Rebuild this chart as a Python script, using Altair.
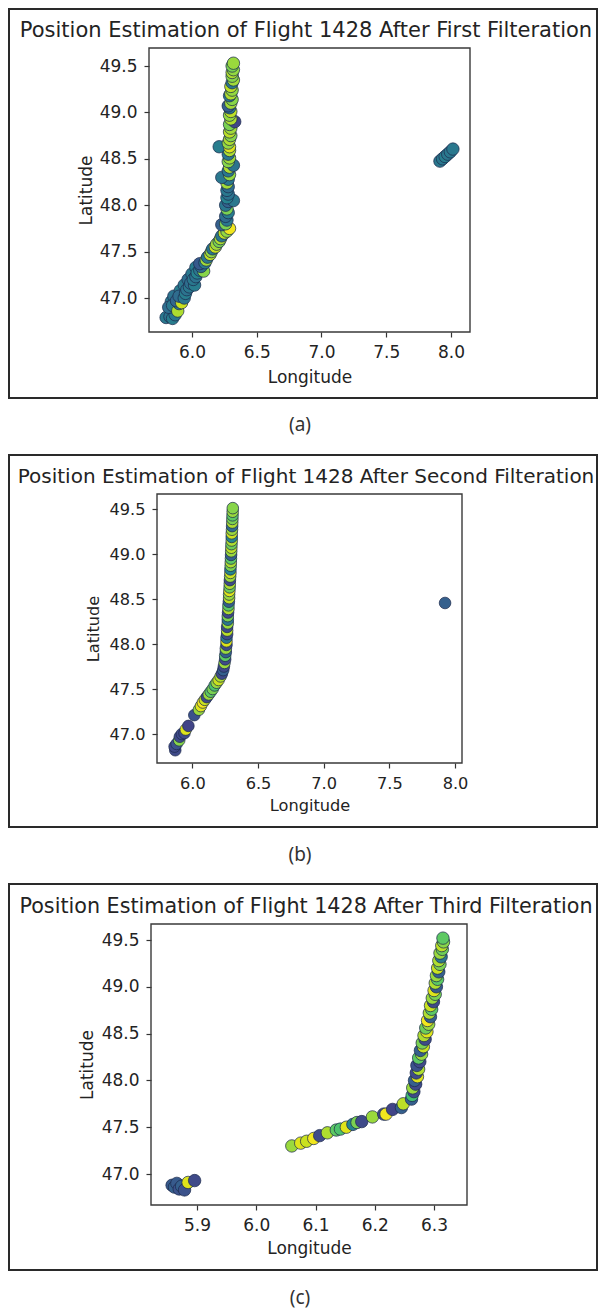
import altair as alt
import pandas as pd

# ---------------- data ----------------
titles = [
    "Position Estimation of Flight 1428 After First Filteration",
    "Position Estimation of Flight 1428 After Second Filteration",
    "Position Estimation of Flight 1428 After Third Filteration",
]
captions = ["(a)", "(b)", "(c)"]

lat_ticks = [47.0, 47.5, 48.0, 48.5, 49.0, 49.5]
ab_lon_ticks = [6.0, 6.5, 7.0, 7.5, 8.0]
c_lon_ticks = [5.9, 6.0, 6.1, 6.2, 6.3]

a_lon_domain = [5.668, 8.147]
a_lat_domain = [46.634, 49.694]
b_lon_domain = [5.731, 8.053]
b_lat_domain = [46.678, 49.667]
c_lon_domain = [5.8224, 6.3556]
c_lat_domain = [46.669, 49.671]

# panel (a): after first filteration
a_lat = [
    46.96, 47.02, 47.08, 47.14, 47.20, 47.26, 47.33,
    46.79, 46.80, 46.78, 46.82, 46.90, 46.92, 46.86, 46.94, 46.97, 46.95,
    47.02, 47.00, 47.05, 47.09, 47.12, 47.16, 47.14, 47.20, 47.23, 47.27,
    47.30, 47.29, 47.34, 47.37, 47.38, 47.41, 47.44, 47.47, 47.50, 47.53,
    47.55, 47.58, 47.61, 47.64, 47.67, 47.70, 47.72, 47.75, 47.79, 47.80,
    47.84, 47.88, 47.92, 47.96, 48.00, 48.04, 48.05, 48.08, 48.12, 48.16,
    48.20, 48.24, 48.28, 48.30, 48.33, 48.37, 48.41, 48.43, 48.47, 48.51,
    48.55, 48.59, 48.63, 48.63, 48.67, 48.71, 48.75, 48.79, 48.83, 48.87,
    48.90, 48.93, 48.97, 49.01, 49.05, 49.07, 49.10, 49.14, 49.18, 49.20,
    49.24, 49.28, 49.32, 49.35, 49.39, 49.43, 49.46, 49.50, 49.53,
    48.475, 48.50, 48.525, 48.55, 48.575, 48.605,
]
a_lon = [
    5.84, 5.86, 5.91, 5.94, 5.97, 6.00, 6.03,
    5.80, 5.83, 5.85, 5.87, 5.82, 5.85, 5.89, 5.90, 5.88, 5.92,
    5.90, 5.94, 5.95, 5.96, 5.98, 5.99, 6.02, 6.01, 6.03, 6.04,
    6.06, 6.09, 6.07, 6.06, 6.10, 6.11, 6.12, 6.14, 6.15, 6.16,
    6.18, 6.19, 6.21, 6.22, 6.23, 6.25, 6.27, 6.29, 6.23, 6.26,
    6.27, 6.26, 6.28, 6.27, 6.26, 6.28, 6.32, 6.27, 6.28, 6.27,
    6.28, 6.27, 6.28, 6.23, 6.29, 6.28, 6.29, 6.32, 6.28, 6.29,
    6.28, 6.29, 6.21, 6.29, 6.28, 6.29, 6.30, 6.29, 6.30, 6.29,
    6.33, 6.30, 6.29, 6.30, 6.29, 6.28, 6.30, 6.31, 6.29, 6.30,
    6.31, 6.30, 6.31, 6.32, 6.31, 6.31, 6.32, 6.31, 6.32,
    7.915, 7.935, 7.955, 7.975, 7.995, 8.015,
]
a_val = [
    0.40, 0.38, 0.42, 0.40, 0.36, 0.40, 0.42,
    0.40, 0.38, 0.42, 0.40, 0.36, 0.40, 0.88, 0.40, 0.33, 0.92,
    0.35, 0.40, 0.42, 0.38, 0.40, 0.36, 0.42, 0.40, 0.38, 0.44,
    0.40, 0.82, 0.36, 0.28, 0.40, 0.86, 0.40, 0.90, 0.84, 0.40,
    0.92, 0.86, 0.80, 0.88, 0.40, 0.90, 0.84, 0.98, 0.30, 0.80,
    0.40, 0.36, 0.42, 0.80, 0.40, 0.32, 0.40, 0.44, 0.38, 0.40,
    0.36, 0.86, 0.40, 0.40, 0.84, 0.40, 0.88, 0.38, 0.82, 0.86,
    0.40, 0.88, 0.42, 0.95, 0.84, 0.88, 0.82, 0.90, 0.86, 0.80,
    0.20, 0.88, 0.84, 0.90, 0.40, 0.30, 0.86, 0.82, 0.40, 0.88,
    0.84, 0.90, 0.40, 0.86, 0.82, 0.88, 0.84, 0.80, 0.85,
    0.40, 0.40, 0.42, 0.40, 0.40, 0.40,
]

# panel (b): after second filteration
b_lat = [
    46.82, 46.86, 46.89, 46.93, 46.97, 47.00, 47.01, 47.05, 47.09, 47.21,
    47.27, 47.31, 47.35, 47.38, 47.41, 47.44, 47.47, 47.50, 47.54, 47.57,
    47.60, 47.64, 47.67, 47.71, 47.75, 47.79, 47.83, 47.87, 47.91, 47.95,
    47.99, 48.03, 48.07, 48.11, 48.15, 48.19, 48.23, 48.27, 48.31, 48.35,
    48.39, 48.43, 48.47, 48.51, 48.55, 48.59, 48.63, 48.67, 48.71, 48.75,
    48.79, 48.83, 48.87, 48.91, 48.95, 48.99, 49.03, 49.07, 49.11, 49.15,
    49.19, 49.23, 49.27, 49.31, 49.35, 49.39, 49.43, 49.47, 49.51,
    48.456,
]
b_lon = [
    5.870, 5.865, 5.880, 5.900, 5.905, 5.920, 5.940, 5.950, 5.970, 6.015,
    6.050, 6.065, 6.080, 6.095, 6.110, 6.125, 6.140, 6.155, 6.170, 6.185,
    6.200, 6.215, 6.225, 6.235, 6.240, 6.245, 6.250, 6.250, 6.255, 6.255,
    6.260, 6.260, 6.260, 6.265, 6.265, 6.265, 6.270, 6.270, 6.270, 6.272,
    6.275, 6.275, 6.278, 6.280, 6.280, 6.282, 6.284, 6.285, 6.286, 6.288,
    6.290, 6.290, 6.292, 6.293, 6.294, 6.295, 6.296, 6.297, 6.298, 6.300,
    6.300, 6.300, 6.302, 6.303, 6.304, 6.305, 6.306, 6.307, 6.308,
    7.924,
]
b_val = [
    0.22, 0.22, 0.25, 0.82, 0.22, 0.22, 0.22, 0.95, 0.20, 0.25,
    0.85, 0.95, 0.98, 0.92, 0.22, 0.85, 0.75, 0.80, 0.72, 0.85,
    0.92, 0.88, 0.22, 0.30, 0.22, 0.85, 0.22, 0.75, 0.30, 0.85,
    0.22, 0.95, 0.40, 0.22, 0.90, 0.22, 0.85, 0.40, 0.80, 0.22,
    0.88, 0.75, 0.30, 0.90, 0.85, 0.95, 0.78, 0.88, 0.22, 0.85,
    0.92, 0.45, 0.80, 0.88, 0.75, 0.30, 0.85, 0.90, 0.78, 0.88,
    0.45, 0.92, 0.85, 0.35, 0.88, 0.80, 0.75, 0.85, 0.82,
    0.30,
]

# panel (c): after third filteration
c_lat = [
    46.88, 46.86, 46.90, 46.84, 46.87, 46.83, 46.91, 46.93,
    47.30, 47.33, 47.35, 47.38, 47.41, 47.44, 47.47, 47.48, 47.50, 47.53,
    47.55, 47.56, 47.61, 47.64, 47.64, 47.69, 47.71, 47.75, 47.80,
    47.84, 47.88, 47.92, 47.96, 48.00, 48.04, 48.08, 48.12, 48.16, 48.20,
    48.24, 48.28, 48.32, 48.36, 48.40, 48.44, 48.48, 48.52, 48.56, 48.60,
    48.64, 48.68, 48.72, 48.76, 48.80, 48.84, 48.88, 48.92, 48.96, 49.00,
    49.04, 49.08, 49.12, 49.16, 49.20, 49.24, 49.28, 49.32, 49.36, 49.40,
    49.44, 49.48, 49.52,
]
c_lon = [
    5.858, 5.862, 5.866, 5.870, 5.874, 5.879, 5.885, 5.896,
    6.060, 6.075, 6.085, 6.097, 6.107, 6.120, 6.135, 6.142, 6.152, 6.163,
    6.170, 6.178, 6.196, 6.215, 6.219, 6.230, 6.245, 6.248, 6.262,
    6.263, 6.266, 6.264, 6.269, 6.267, 6.272, 6.270, 6.274, 6.271, 6.276,
    6.274, 6.279, 6.277, 6.282, 6.280, 6.285, 6.283, 6.288, 6.286, 6.291,
    6.289, 6.294, 6.292, 6.296, 6.294, 6.299, 6.297, 6.302, 6.300, 6.304,
    6.302, 6.306, 6.304, 6.308, 6.306, 6.310, 6.308, 6.312, 6.310, 6.314,
    6.313, 6.316, 6.315,
]
c_val = [
    0.28, 0.30, 0.28, 0.25, 0.30, 0.25, 0.95, 0.22,
    0.85, 0.95, 0.92, 0.98, 0.22, 0.88, 0.75, 0.72, 0.95, 0.45,
    0.80, 0.22, 0.85, 0.22, 0.98, 0.20, 0.30, 0.90, 0.30,
    0.70, 0.22, 0.85, 0.22, 0.30, 0.95, 0.22, 0.88, 0.25, 0.22,
    0.75, 0.85, 0.30, 0.92, 0.80, 0.22, 0.88, 0.95, 0.78, 0.85,
    0.98, 0.30, 0.88, 0.75, 0.92, 0.22, 0.85, 0.80, 0.95, 0.28,
    0.88, 0.75, 0.85, 0.30, 0.92, 0.80, 0.88, 0.40, 0.85, 0.78,
    0.90, 0.82, 0.75,
]

# ---------------- styling / layout ----------------
FONT = "DejaVu Sans"
TXT = "#232323"
FRAME_W = 588          # keeps the whole drawing inside the 590px page body
SPACING = 57


def panel(lon, lat, val, title, caption, lon_dom, lat_dom, lon_ticks, L):
    df = pd.DataFrame({"Longitude": lon, "Latitude": lat, "v": val})
    xs = alt.Scale(domain=lon_dom, range=L["xr"], nice=False, zero=False)
    ys = alt.Scale(domain=lat_dom, range=L["yr"], nice=False, zero=False)
    xaxis = alt.Axis(
        values=lon_ticks, format=".1f", offset=L["xoff"], domain=False, grid=False,
        tickSize=5, tickWidth=1.2, tickColor="#333333",
        labelFont=FONT, labelFontSize=L["fs"], labelColor=TXT, labelPadding=7,
        title="Longitude", titleFont=FONT, titleFontSize=L["fs"], titleFontWeight="normal",
        titleColor=TXT, titleY=L["xty"], titleBaseline="middle",
    )
    yaxis = alt.Axis(
        values=lat_ticks, format=".1f", offset=L["yoff"], domain=False, grid=False,
        tickSize=5, tickWidth=1.2, tickColor="#333333",
        labelFont=FONT, labelFontSize=L["fs"], labelColor=TXT, labelPadding=7,
        title="Latitude", titleFont=FONT, titleFontSize=L["fs"], titleFontWeight="normal",
        titleColor=TXT, titleX=L["ytx"], titleBaseline="middle",
    )
    box = alt.Chart(
        alt.Data(values=[{"x0": lon_dom[0], "x1": lon_dom[1], "y0": lat_dom[0], "y1": lat_dom[1]}])
    ).mark_rect(fillOpacity=0, stroke="#3a3a3a", strokeWidth=1.4).encode(
        x=alt.X("x0:Q", scale=xs, axis=xaxis),
        x2="x1:Q",
        y=alt.Y("y0:Q", scale=ys, axis=yaxis),
        y2="y1:Q",
    )
    pts = alt.Chart(df).mark_circle(
        size=L["size"], opacity=1, stroke="#1c2a4c", strokeWidth=0.9, strokeOpacity=0.8
    ).encode(
        x=alt.X("Longitude:Q", scale=xs, axis=xaxis),
        y=alt.Y("Latitude:Q", scale=ys, axis=yaxis),
        color=alt.Color("v:Q", scale=alt.Scale(scheme="viridis", domain=[0, 1]), legend=None),
    )
    ttl = alt.Chart(alt.Data(values=[{"t": title}])).mark_text(
        font=FONT, fontSize=L["tfs"], color=TXT, align="center", baseline="middle"
    ).encode(text="t:N", x=alt.value(297), y=alt.value(L["ty"]))
    cap = alt.Chart(alt.Data(values=[{"t": caption}])).mark_text(
        font="Noto Sans", fontSize=19, color="#333333", align="center", baseline="middle"
    ).encode(text="t:N", x=alt.value(291), y=alt.value(L["cy"]))
    return alt.layer(box, pts, ttl, cap).properties(width=FRAME_W, height=L["h"])


La = dict(h=389, xr=[140, 461], yr=[323, 39], xoff=-66, yoff=-140, xty=45, ytx=-63,
          fs=17, tfs=21.0, ty=22, cy=416, size=155)
Lb = dict(h=372, xr=[148, 453], yr=[308, 39], xoff=-64, yoff=-148, xty=42, ytx=-64,
          fs=16.2, tfs=20.0, ty=22, cy=400, size=135)
Lc = dict(h=386, xr=[142, 458], yr=[321, 40], xoff=-65, yoff=-142, xty=43, ytx=-64,
          fs=17, tfs=20.7, ty=23, cy=414, size=155)

pa = panel(a_lon, a_lat, a_val, titles[0], captions[0], a_lon_domain, a_lat_domain, ab_lon_ticks, La)
pb = panel(b_lon, b_lat, b_val, titles[1], captions[1], b_lon_domain, b_lat_domain, ab_lon_ticks, Lb)
pc = panel(c_lon, c_lat, c_val, titles[2], captions[2], c_lon_domain, c_lat_domain, c_lon_ticks, Lc)

chart = (
    alt.vconcat(pa, pb, pc, spacing=SPACING, bounds="flush")
    .properties(padding={"left": 0, "top": 0, "right": 0, "bottom": 0})
    .configure_view(stroke="#2a2a2a", strokeWidth=2)
)

chart.save("out.html", embed_options={"renderer": "svg", "actions": False})
